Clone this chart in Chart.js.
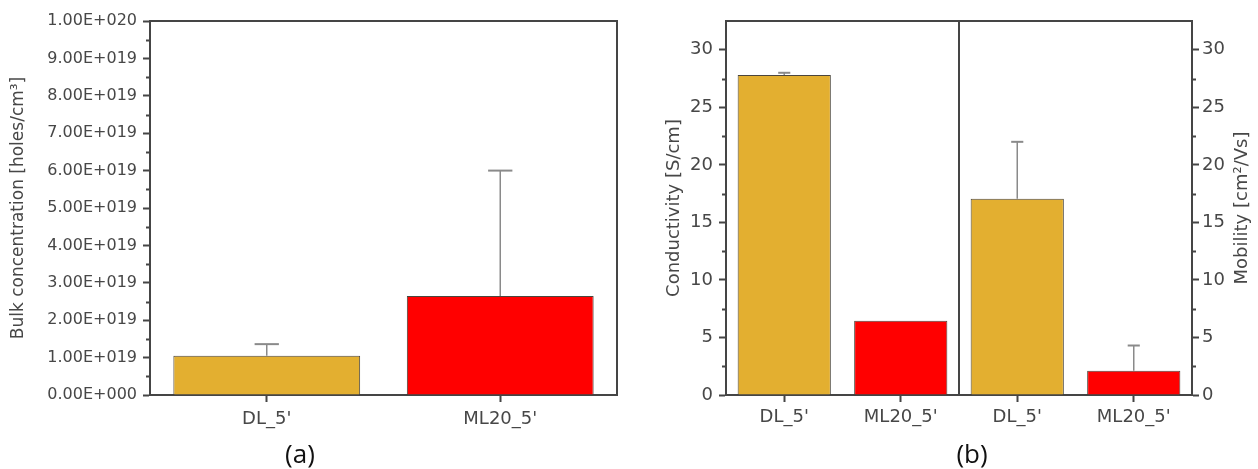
<!DOCTYPE html>
<html>
<head>
<meta charset="utf-8">
<script src="https://cdn.jsdelivr.net/npm/chart.js@4.4.1/dist/chart.umd.min.js"></script>
<style>
  html, body { margin: 0; padding: 0; background: #fff; width: 1258px; height: 469px; overflow: hidden; }
  #wrapA { position: absolute; left: 0; top: 0; width: 640px; height: 469px; }
  #wrapB { position: absolute; left: 640px; top: 0; width: 618px; height: 469px; }
  .panel-label { position: absolute; font-family: "Open Sans", sans-serif; font-size: 26px; color: #111;
                 transform: translate(-50%, -50%); line-height: 1; white-space: nowrap; }
</style>
</head>
<body>
<div id="wrapA"><canvas id="chartA" width="640" height="469"></canvas></div>
<div id="wrapB"><canvas id="chartB" width="618" height="469"></canvas></div>
<div class="panel-label" style="left:300px; top:453px;">(a)</div>
<div class="panel-label" style="left:972px; top:453px;">(b)</div>

<script>
// ---- Data ----
const samples = ["DL_5'", "ML20_5'"];
const barColors = ['#E3AF30', '#FF0000'];

// (a) bulk hole concentration [holes/cm³] with upper error
const bulkConc = [1.05e19, 2.65e19];
const bulkConcErr = [0.31e19, 3.35e19];
const bulkTickLabels = ['0.00E+000', '1.00E+019', '2.00E+019', '3.00E+019', '4.00E+019', '5.00E+019',
                        '6.00E+019', '7.00E+019', '8.00E+019', '9.00E+019', '1.00E+020'];

// (b) conductivity [S/cm] and mobility [cm²/Vs] with upper error
const conductivity = [27.8, 6.45];
const conductivityErr = [0.2, 0];
const mobility = [17.05, 2.1];
const mobilityErr = [4.95, 2.2];
const panelBTickLabels = ['0', '5', '10', '15', '20', '25', '30'];

const titleBulk = 'Bulk concentration [holes/cm³]';
const titleCond = 'Conductivity [S/cm]';
const titleMob = 'Mobility [cm²/Vs]';

// ---- Styling ----
const FONT = 'DejaVu Sans';
const TEXT = '#474747';
const AXIS = '#454545';
Chart.defaults.font.family = FONT;
Chart.defaults.color = TEXT;

// upward error bars with caps
const errorBars = {
  id: 'errorBars',
  afterDatasetsDraw(chart) {
    const ctx = chart.ctx;
    chart.data.datasets.forEach((ds, di) => {
      if (!ds.errorPlus) return;
      const meta = chart.getDatasetMeta(di);
      const yScale = chart.scales[meta.yAxisID];
      meta.data.forEach((bar, i) => {
        const v = ds.data[i], e = ds.errorPlus[i];
        if (v == null || !e) return;
        const x = bar.x, y0 = yScale.getPixelForValue(v), y1 = yScale.getPixelForValue(v + e);
        const half = bar.width * 0.065;
        ctx.save();
        ctx.strokeStyle = '#8a8a8a';
        ctx.lineWidth = 1.5;
        ctx.beginPath();
        ctx.moveTo(x, y0); ctx.lineTo(x, y1);
        ctx.stroke();
        ctx.lineWidth = 2;
        ctx.beginPath();
        ctx.moveTo(x - half, y1); ctx.lineTo(x + half, y1);
        ctx.stroke();
        ctx.restore();
      });
    });
  }
};

// box frame, optional divider, minor ticks and a right-hand title reading upward
const frame = {
  id: 'frame',
  afterDraw(chart, args, opts) {
    const ctx = chart.ctx;
    const a = chart.chartArea;
    ctx.save();
    ctx.strokeStyle = AXIS;
    ctx.lineWidth = 2;
    ctx.beginPath();
    ctx.moveTo(a.left - 1, a.top); ctx.lineTo(a.right + 1, a.top);
    if (opts.rightEdge) { ctx.moveTo(a.right, a.top); ctx.lineTo(a.right, a.bottom); }
    if (opts.divider) {
      const xs = chart.scales.x;
      const xm = (xs.getPixelForValue(1) + xs.getPixelForValue(2)) / 2;
      ctx.moveTo(xm, a.top); ctx.lineTo(xm, a.bottom);
    }
    ctx.stroke();
    // minor ticks halfway between the major ones
    (opts.minor || []).forEach(m => {
      const s = chart.scales[m.axis];
      ctx.beginPath();
      for (let v = m.step / 2; v < s.max; v += m.step) {
        const y = Math.round(s.getPixelForValue(v)) + 0.5;
        if (s.position === 'left') { ctx.moveTo(s.right - 4, y); ctx.lineTo(s.right, y); }
        else { ctx.moveTo(s.left, y); ctx.lineTo(s.left + 4, y); }
      }
      ctx.stroke();
    });
    if (opts.rightTitle) {
      const s = chart.scales[opts.rightTitle.axis];
      ctx.fillStyle = TEXT;
      ctx.font = opts.rightTitle.size + 'px "' + FONT + '"';
      ctx.textAlign = 'center';
      ctx.textBaseline = 'middle';
      ctx.translate(opts.rightTitle.x, (s.top + s.bottom) / 2);
      ctx.rotate(-Math.PI / 2);
      ctx.fillText(opts.rightTitle.text, 0, 0);
    }
    ctx.restore();
  }
};

function yAxis(extra) {
  return Object.assign({
    grid: { drawOnChartArea: false, drawTicks: true, tickLength: 7, tickWidth: 2, tickColor: AXIS },
    border: { display: true, color: AXIS, width: 2 }
  }, extra);
}

function xAxis(fontSize, pad) {
  return {
    offset: true,
    grid: { offset: false, drawOnChartArea: false, drawTicks: true, tickLength: 7, tickWidth: 2, tickColor: AXIS },
    border: { display: true, color: AXIS, width: 2 },
    ticks: { font: { size: fontSize }, color: TEXT, padding: pad, maxRotation: 0 },
    afterFit(s) { s.height = 74; }
  };
}

const common = {
  responsive: false,
  devicePixelRatio: 1,
  animation: false,
  plugins: { legend: { display: false }, tooltip: { enabled: false } }
};

const barBorder = 'rgba(55,50,40,0.9)';

// ---- (a) ----
new Chart(document.getElementById('chartA'), {
  type: 'bar',
  data: {
    labels: samples,
    datasets: [{
      data: bulkConc,
      errorPlus: bulkConcErr,
      backgroundColor: barColors,
      borderColor: barBorder,
      borderWidth: 1,
      categoryPercentage: 0.8,
      barPercentage: 1.0
    }]
  },
  options: Object.assign({}, common, {
    layout: { padding: { left: 0, top: 21, right: 23, bottom: 0 } },
    scales: {
      x: xAxis(18, 7),
      y: yAxis({
        min: 0, max: 1e20,
        ticks: { stepSize: 1e19, font: { size: 16 }, color: TEXT, padding: 6,
                 callback: (v, i) => bulkTickLabels[i] },
        title: { display: true, text: titleBulk, font: { size: 17 }, color: TEXT, padding: { top: 8, bottom: 0 } },
        afterFit(s) { s.width = 150; }
      })
    },
    plugins: Object.assign({}, common.plugins, {
      frame: { rightEdge: true, minor: [{ axis: 'y', step: 1e19 }] }
    })
  }),
  plugins: [errorBars, frame]
});

// ---- (b) ----
const labelsB = samples.concat(samples);
new Chart(document.getElementById('chartB'), {
  type: 'bar',
  data: {
    labels: labelsB,
    datasets: [{
      data: conductivity.concat([null, null]),
      errorPlus: conductivityErr.concat([0, 0]),
      yAxisID: 'y',
      backgroundColor: barColors.concat(barColors),
      borderColor: barBorder,
      borderWidth: 1,
      grouped: false,
      categoryPercentage: 0.8,
      barPercentage: 1.0
    }, {
      data: [null, null].concat(mobility),
      errorPlus: [0, 0].concat(mobilityErr),
      yAxisID: 'y2',
      backgroundColor: barColors.concat(barColors),
      borderColor: barBorder,
      borderWidth: 1,
      grouped: false,
      categoryPercentage: 0.8,
      barPercentage: 1.0
    }]
  },
  options: Object.assign({}, common, {
    layout: { padding: { left: 0, top: 21, right: 0, bottom: 0 } },
    scales: {
      x: xAxis(18, 5),
      y: yAxis({
        position: 'left',
        min: 0, max: 32.5,
        ticks: { stepSize: 5, includeBounds: false, font: { size: 18 }, color: TEXT, padding: 6,
                 callback: (v, i) => panelBTickLabels[i] },
        title: { display: true, text: titleCond, font: { size: 18 }, color: TEXT, padding: { top: 24, bottom: 0 } },
        afterFit(s) { s.width = 86; }
      }),
      y2: yAxis({
        position: 'right',
        min: 0, max: 32.5,
        ticks: { stepSize: 5, includeBounds: false, font: { size: 18 }, color: TEXT, padding: 3,
                 callback: (v, i) => panelBTickLabels[i] },
        afterFit(s) { s.width = 66; }
      })
    },
    plugins: Object.assign({}, common.plugins, {
      frame: {
        divider: true,
        minor: [{ axis: 'y', step: 5 }, { axis: 'y2', step: 5 }],
        rightTitle: { axis: 'y2', text: titleMob, size: 18, x: 602 }
      }
    })
  }),
  plugins: [errorBars, frame]
});
</script>
</body>
</html>
